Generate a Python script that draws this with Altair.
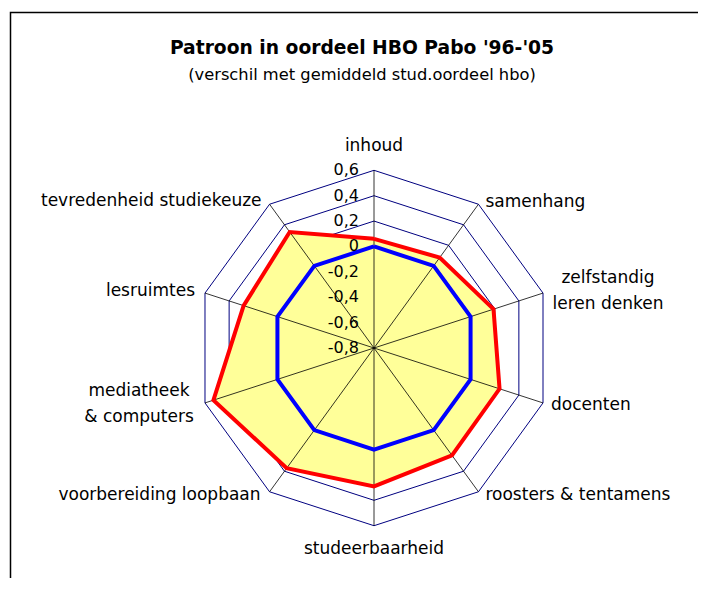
import altair as alt
import pandas as pd

# ---------------- data ----------------
categories = [
    "inhoud",
    "samenhang",
    "zelfstandig\nleren denken",
    "docenten",
    "roosters & tentamens",
    "studeerbaarheid",
    "voorbereiding loopbaan",
    "mediatheek\n& computers",
    "lesruimtes",
    "tevredenheid studiekeuze",
]
pabo_values = [0.06, 0.08, 0.19, 0.24, 0.245, 0.29, 0.37, 0.53, 0.28, 0.33]
hbo_values = [0.0, 0.0, 0.0, 0.0, 0.0, 0.0, 0.0, 0.0, 0.0, 0.0]
tick_values = [-0.8, -0.6, -0.4, -0.2, 0.0, 0.2, 0.4, 0.6]
tick_labels = ["-0,8", "-0,6", "-0,4", "-0,2", "0", "0,2", "0,4", "0,6"]
ring_values = [-0.6, -0.4, -0.2, 0.0, 0.2, 0.4, 0.6]
title_text = ["Patroon in oordeel HBO Pabo '96-'05"]
subtitle_text = ["(verschil met gemiddeld stud.oordeel hbo)"]

N = len(categories)
AXIS_MIN = -0.8
AXIS_MAX = 0.6

series_rows = []
for name, vals in [("pabo", pabo_values), ("hbo", hbo_values)]:
    for i in range(N + 1):
        series_rows.append({"series": name, "i": i, "v": vals[i % N]})
series_df = pd.DataFrame(series_rows)

ring_df = pd.DataFrame([{"ring": r, "i": i, "v": r} for r in ring_values for i in range(N + 1)])
spoke_df = pd.DataFrame({"i": list(range(N)), "v": [AXIS_MAX] * N})
label_df = pd.DataFrame({"i": list(range(N)), "label": categories, "v": [AXIS_MAX] * N})
tick_df = pd.DataFrame({"i": [0] * len(tick_values), "v": tick_values, "label": tick_labels})

# ---------------- scales ----------------
xs = alt.Scale(domain=[-2.8835, 2.5526], nice=False, zero=False)
ys = alt.Scale(domain=[-1.812, 2.6787], nice=False, zero=False)
X = alt.X("px:Q", scale=xs, axis=None)
Y = alt.Y("py:Q", scale=ys, axis=None)
FONT = "DejaVu Sans"


def polar(ch):
    return ch.transform_calculate(
        ang=f"datum.i * 2 * PI / {N}",
        r=f"datum.v - ({AXIS_MIN})",
    ).transform_calculate(
        px="datum.r * sin(datum.ang)",
        py="datum.r * cos(datum.ang)",
        zx="0",
        zy="0",
    )


rings = polar(alt.Chart(ring_df)).mark_line(color="#000080", strokeWidth=1).encode(
    x=X, y=Y, detail="ring:N", order=alt.Order("i:Q")
)

fill = polar(alt.Chart(series_df).transform_filter("datum.series == 'pabo'")).mark_line(
    fill="#FFFF99", stroke="#FFFF99", strokeWidth=0.5
).encode(x=X, y=Y, order=alt.Order("i:Q"))

spokes = polar(alt.Chart(spoke_df)).mark_rule(color="black", strokeWidth=0.8).encode(
    x=alt.X("zx:Q", scale=xs, axis=None),
    y=alt.Y("zy:Q", scale=ys, axis=None),
    x2="px:Q",
    y2="py:Q",
)

red = polar(alt.Chart(series_df).transform_filter("datum.series == 'pabo'")).mark_line(
    color="#FF0000", strokeWidth=4, strokeJoin="miter"
).encode(x=X, y=Y, order=alt.Order("i:Q"))

blue = polar(alt.Chart(series_df).transform_filter("datum.series == 'hbo'")).mark_line(
    color="#0000FF", strokeWidth=4, strokeJoin="miter"
).encode(x=X, y=Y, order=alt.Order("i:Q"))

ticks = polar(alt.Chart(tick_df)).mark_text(
    align="right", baseline="middle", dx=-15, font=FONT, fontSize=16, color="black"
).encode(x=X, y=Y, text="label:N")


def lab(filter_expr, **kw):
    base = dict(font=FONT, fontSize=17, color="black", lineBreak="\n", lineHeight=26)
    base.update(kw)
    return polar(alt.Chart(label_df).transform_filter(filter_expr)).mark_text(**base).encode(
        x=X, y=Y, text="label:N"
    )


lab_top = lab("datum.i == 0", align="center", baseline="middle", dy=-24)
lab_bottom = lab("datum.i == 5", align="center", baseline="middle", dy=23)
lab_right = lab("datum.i == 1", align="left", baseline="middle", dx=7, dy=-2)
lab_doc = lab("datum.i == 3", align="left", baseline="middle", dx=8, dy=2)
lab_roost = lab("datum.i == 4", align="left", baseline="middle", dx=7, dy=3)
lab_zelf = lab("datum.i == 2", align="center", baseline="middle", dx=65, dy=-15)
lab_voor = lab("datum.i == 6", align="right", baseline="middle", dx=-9, dy=3)
lab_media = lab("datum.i == 7", align="center", baseline="middle", dx=-66, dy=-12)
lab_les = lab("datum.i == 8", align="right", baseline="middle", dx=-10, dy=-2)
lab_tev = lab("datum.i == 9", align="right", baseline="middle", dx=-8, dy=-3)

title = alt.Chart(pd.DataFrame({"t": title_text})).mark_text(
    font=FONT, fontSize=18.7, fontWeight="bold", align="center", baseline="alphabetic", color="black"
).encode(x=alt.value(354), y=alt.value(46), text="t:N")

subtitle = alt.Chart(pd.DataFrame({"t": subtitle_text})).mark_text(
    font=FONT, fontSize=16.3, align="center", baseline="alphabetic", color="black"
).encode(x=alt.value(354), y=alt.value(72), text="t:N")

frame = alt.Chart(pd.DataFrame({"a": [0]})).mark_rect(
    fillOpacity=0, stroke="black", strokeWidth=1.5
).encode(x=alt.value(2.5), x2=alt.value(760), y=alt.value(4.5), y2=alt.value(760))

chart = alt.layer(
    rings, fill, spokes, red, blue, ticks,
    lab_top, lab_bottom, lab_right, lab_doc, lab_roost, lab_zelf, lab_voor, lab_media, lab_les, lab_tev,
    title, subtitle, frame,
).properties(
    width=690, height=570, autosize=alt.AutoSizeParams(type="none"), padding=0,
    background="white",
).configure_view(strokeWidth=0)

chart.save("out.html", embed_options={"renderer": "svg", "actions": False})
